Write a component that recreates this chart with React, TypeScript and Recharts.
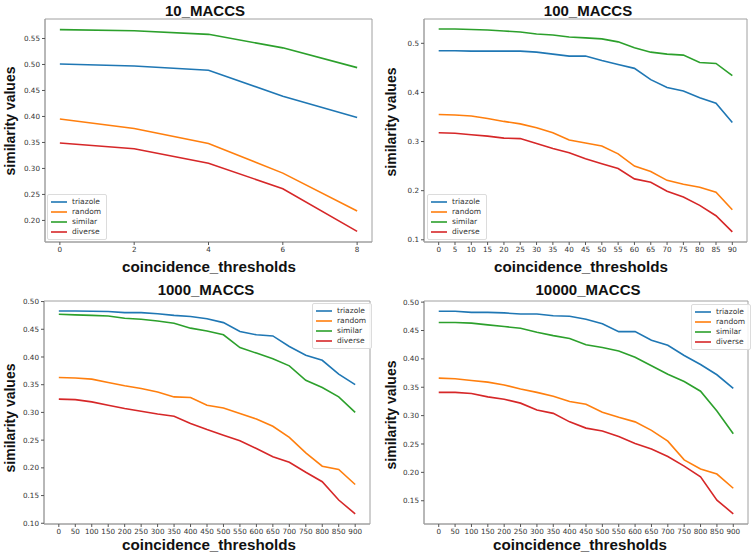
import React from 'react';
import { LineChart, Line, XAxis, YAxis, Legend, ReferenceArea } from 'recharts';

// ---- Panel 1: 10_MACCS ----
const thresholds10 = [0, 2, 4, 6, 8];
const triazole10 = [0.501, 0.497, 0.489, 0.439, 0.398];
const random10 = [0.395, 0.377, 0.348, 0.291, 0.218];
const similar10 = [0.567, 0.565, 0.558, 0.532, 0.494];
const diverse10 = [0.349, 0.338, 0.31, 0.261, 0.179];
const yTicks10 = [0.2, 0.25, 0.3, 0.35, 0.4, 0.45, 0.5, 0.55];

// ---- Panel 2: 100_MACCS ----
const thresholds100 = [0, 5, 10, 15, 20, 25, 30, 35, 40, 45, 50, 55, 60, 65, 70, 75, 80, 85, 90];
const triazole100 = [0.485, 0.485, 0.484, 0.484, 0.484, 0.484, 0.482, 0.478, 0.474, 0.474, 0.465, 0.457, 0.449, 0.426, 0.41, 0.403, 0.389, 0.378, 0.339];
const random100 = [0.355, 0.354, 0.352, 0.347, 0.341, 0.336, 0.328, 0.318, 0.303, 0.297, 0.291, 0.275, 0.25, 0.239, 0.221, 0.213, 0.207, 0.197, 0.161];
const similar100 = [0.529, 0.529, 0.528, 0.527, 0.525, 0.523, 0.519, 0.517, 0.513, 0.511, 0.509, 0.503, 0.491, 0.482, 0.478, 0.476, 0.461, 0.459, 0.434];
const diverse100 = [0.318, 0.317, 0.314, 0.311, 0.307, 0.306, 0.296, 0.286, 0.277, 0.265, 0.255, 0.245, 0.224, 0.217, 0.199, 0.187, 0.17, 0.149, 0.116];
const yTicks100 = [0.1, 0.2, 0.3, 0.4, 0.5];

// ---- Panel 3: 1000_MACCS ----
const thresholds1000 = [0, 50, 100, 150, 200, 250, 300, 350, 400, 450, 500, 550, 600, 650, 700, 750, 800, 850, 900];
const triazole1000 = [0.483, 0.483, 0.4826, 0.482, 0.48, 0.48, 0.478, 0.475, 0.473, 0.469, 0.462, 0.446, 0.44, 0.438, 0.419, 0.403, 0.394, 0.369, 0.35];
const random1000 = [0.363, 0.362, 0.36, 0.354, 0.348, 0.343, 0.337, 0.328, 0.327, 0.313, 0.308, 0.298, 0.288, 0.275, 0.255, 0.227, 0.203, 0.197, 0.17];
const similar1000 = [0.477, 0.476, 0.475, 0.474, 0.47, 0.468, 0.465, 0.461, 0.452, 0.447, 0.44, 0.417, 0.407, 0.397, 0.384, 0.358, 0.345, 0.328, 0.3];
const diverse1000 = [0.324, 0.323, 0.319, 0.313, 0.307, 0.302, 0.297, 0.293, 0.28, 0.269, 0.259, 0.249, 0.235, 0.22, 0.21, 0.192, 0.175, 0.142, 0.117];
const yTicks1000 = [0.1, 0.15, 0.2, 0.25, 0.3, 0.35, 0.4, 0.45, 0.5];

// ---- Panel 4: 10000_MACCS ----
const thresholds10000 = [0, 50, 100, 150, 200, 250, 300, 350, 400, 450, 500, 550, 600, 650, 700, 750, 800, 850, 900];
const triazole10000 = [0.484, 0.484, 0.482, 0.482, 0.481, 0.479, 0.479, 0.476, 0.475, 0.47, 0.462, 0.448, 0.448, 0.433, 0.424, 0.406, 0.39, 0.372, 0.348];
const random10000 = [0.366, 0.365, 0.362, 0.359, 0.354, 0.347, 0.341, 0.334, 0.325, 0.32, 0.306, 0.297, 0.289, 0.274, 0.255, 0.222, 0.206, 0.197, 0.172];
const similar10000 = [0.464, 0.464, 0.463, 0.46, 0.457, 0.454, 0.447, 0.441, 0.436, 0.425, 0.42, 0.414, 0.403, 0.388, 0.373, 0.36, 0.343, 0.308, 0.268];
const diverse10000 = [0.341, 0.341, 0.339, 0.333, 0.329, 0.322, 0.31, 0.304, 0.289, 0.278, 0.273, 0.263, 0.251, 0.241, 0.228, 0.211, 0.192, 0.151, 0.127];
const yTicks10000 = [0.15, 0.2, 0.25, 0.3, 0.35, 0.4, 0.45, 0.5];

const seriesNames = ['triazole', 'random', 'similar', 'diverse'];
const seriesColors = ['#1f77b4', '#ff7f0e', '#2ca02c', '#d62728'];

const buildRows = (xs: number[], a: number[], b: number[], c: number[], d: number[]) =>
  xs.map((x, i) => ({ x, triazole: a[i], random: b[i], similar: c[i], diverse: d[i] }));

const TICK_FONT = { fontSize: 7.2, fill: '#333', fontFamily: 'DejaVu Sans' };
const SPINE = '#a0a0a0';

const LegendBox = () => (
  <div
    style={{
      background: 'rgba(255,255,255,0.85)',
      border: '1px solid #dcdcdc',
      borderRadius: 2,
      padding: '2px 5px 2px 3px',
      fontFamily: 'DejaVu Sans',
      fontSize: 7.5,
      color: '#333',
      lineHeight: '10px',
    }}
  >
    {seriesNames.map((n, i) => (
      <div key={n} style={{ display: 'flex', alignItems: 'center', height: 10 }}>
        <svg width={16} height={10} style={{ marginRight: 5 }}>
          <line x1={0} y1={5} x2={16} y2={5} stroke={seriesColors[i]} strokeWidth={1.6} />
        </svg>
        <span>{n}</span>
      </div>
    ))}
  </div>
);

type PanelProps = {
  left: number;
  top: number;
  width: number;
  height: number;
  mTop: number;
  yW: number;
  mRight: number;
  xH: number;
  rows: any[];
  xDomain: [number, number];
  xTicks: number[];
  yDomain: [number, number];
  yTicks: number[];
  yDigits: number;
  legendPos: { left: number; top: number };
};

const Panel = (p: PanelProps) => (
  <div style={{ position: 'absolute', left: p.left, top: p.top }}>
    <LineChart
      width={p.width}
      height={p.height}
      data={p.rows}
      margin={{ top: p.mTop, right: p.mRight, bottom: 0, left: 0 }}
    >
      <XAxis
        dataKey="x"
        type="number"
        domain={p.xDomain}
        ticks={p.xTicks}
        interval={0}
        allowDataOverflow
        height={p.xH}
        tick={TICK_FONT}
        tickSize={3}
        tickMargin={2}
        tickLine={{ stroke: '#555' }}
        axisLine={{ stroke: SPINE }}
      />
      <YAxis
        type="number"
        domain={p.yDomain}
        ticks={p.yTicks}
        interval={0}
        allowDataOverflow
        width={p.yW}
        tick={TICK_FONT}
        tickSize={3}
        tickMargin={2}
        tickLine={{ stroke: '#555' }}
        axisLine={{ stroke: SPINE }}
        tickFormatter={(v: number) => v.toFixed(p.yDigits)}
      />
      <ReferenceArea
        x1={p.xDomain[0]}
        x2={p.xDomain[1]}
        y1={p.yDomain[0]}
        y2={p.yDomain[1]}
        fill="none"
        fillOpacity={0}
        stroke={SPINE}
        strokeWidth={1}
        ifOverflow="visible"
      />
      {seriesNames.map((n, i) => (
        <Line
          key={n}
          dataKey={n}
          stroke={seriesColors[i]}
          strokeWidth={1.6}
          dot={false}
          activeDot={false}
          isAnimationActive={false}
        />
      ))}
      <Legend
        layout="vertical"
        align="center"
        verticalAlign="middle"
        wrapperStyle={{ position: 'absolute', left: p.legendPos.left, top: p.legendPos.top, width: 'auto', height: 'auto' }}
        content={() => <LegendBox />}
      />
    </LineChart>
  </div>
);

const titleStyle: React.CSSProperties = {
  position: 'absolute',
  fontFamily: 'Liberation Sans, Arial, sans-serif',
  fontWeight: 'bold',
  fontSize: 15,
  color: '#111',
  whiteSpace: 'nowrap',
  transform: 'translate(-50%, -50%)',
  lineHeight: 1,
};

const yLabelStyle: React.CSSProperties = {
  position: 'absolute',
  fontFamily: 'Liberation Sans, Arial, sans-serif',
  fontWeight: 'bold',
  fontSize: 14,
  color: '#111',
  whiteSpace: 'nowrap',
  transform: 'translate(-50%, -50%) rotate(-90deg)',
  lineHeight: 1,
};

const Title = ({ x, y, text }: { x: number; y: number; text: string }) => (
  <div style={{ ...titleStyle, left: x, top: y }}>{text}</div>
);
const XLabel = ({ x, y }: { x: number; y: number }) => (
  <div style={{ ...titleStyle, left: x, top: y, fontSize: 15.2 }}>coincidence_thresholds</div>
);
const YLabel = ({ x, y }: { x: number; y: number }) => (
  <div style={{ ...yLabelStyle, left: x, top: y }}>similarity values</div>
);

export default function App() {
  return (
    <div style={{ position: 'absolute', left: 0, top: 0, width: 755, height: 556, background: '#fff', overflow: 'hidden' }}>
      <Panel
        left={0}
        top={0}
        width={377}
        height={278}
        mTop={19}
        yW={45}
        mRight={5}
        xH={36}
        rows={buildRows(thresholds10, triazole10, random10, similar10, diverse10)}
        xDomain={[-0.4, 8.4]}
        xTicks={thresholds10}
        yDomain={[0.1585, 0.5875]}
        yTicks={yTicks10}
        yDigits={2}
        legendPos={{ left: 47, top: 194 }}
      />
      <Panel
        left={378}
        top={0}
        width={377}
        height={278}
        mTop={19}
        yW={46}
        mRight={8}
        xH={36}
        rows={buildRows(thresholds100, triazole100, random100, similar100, diverse100)}
        xDomain={[-4.5, 94.5]}
        xTicks={thresholds100}
        yDomain={[0.0955, 0.5495]}
        yTicks={yTicks100}
        yDigits={1}
        legendPos={{ left: 49, top: 194 }}
      />
      <Panel
        left={0}
        top={278}
        width={377}
        height={278}
        mTop={23}
        yW={44}
        mRight={7}
        xH={32}
        rows={buildRows(thresholds1000, triazole1000, random1000, similar1000, diverse1000)}
        xDomain={[-45, 945]}
        xTicks={thresholds1000}
        yDomain={[0.0987, 0.501]}
        yTicks={yTicks1000}
        yDigits={2}
        legendPos={{ left: 312, top: 25 }}
      />
      <Panel
        left={378}
        top={278}
        width={377}
        height={278}
        mTop={23}
        yW={46}
        mRight={7}
        xH={32}
        rows={buildRows(thresholds10000, triazole10000, random10000, similar10000, diverse10000)}
        xDomain={[-45, 945]}
        xTicks={thresholds10000}
        yDomain={[0.109, 0.502]}
        yTicks={yTicks10000}
        yDigits={2}
        legendPos={{ left: 313, top: 26 }}
      />
      <Title x={205} y={10} text="10_MACCS" />
      <Title x={588} y={10} text="100_MACCS" />
      <Title x={206} y={289} text="1000_MACCS" />
      <Title x={588} y={289} text="10000_MACCS" />
      <XLabel x={209} y={267} />
      <XLabel x={581} y={267} />
      <XLabel x={209} y={545} />
      <XLabel x={580} y={545} />
      <YLabel x={10} y={121} />
      <YLabel x={391} y={122} />
      <YLabel x={10} y={418} />
      <YLabel x={391} y={415} />
    </div>
  );
}
